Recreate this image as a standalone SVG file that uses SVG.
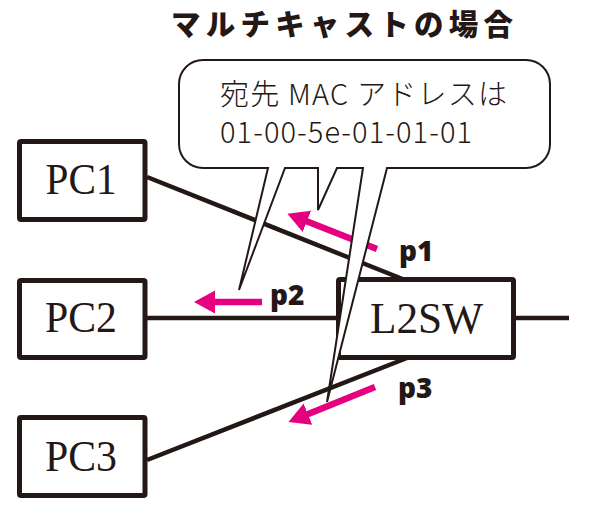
<svg xmlns="http://www.w3.org/2000/svg" width="590" height="518" viewBox="0 0 590 518">
<style>
.box{fill:#fff;stroke:#231815;stroke-width:5}
.lbl{font-family:"Liberation Serif","Times New Roman",serif;font-size:45px;fill:#231815}
.link{stroke:#231815;stroke-width:4.5;fill:none}
.flow{stroke:#e4007f;stroke-width:6.5;fill:none}
.port{font-family:"Open Sans","Noto Sans","DejaVu Sans",sans-serif;font-weight:800;font-size:28px;fill:#231815}
.jp{font-family:"Noto Sans CJK JP","Noto Sans",sans-serif;fill:#231815}
</style>
<defs>
<marker id="ah" markerUnits="userSpaceOnUse" markerWidth="22" markerHeight="24" viewBox="0 0 22 24" refX="1" refY="11.5" orient="auto">
<path d="M0,0 L21,11.5 L0,23 z" fill="#e4007f"/>
</marker>
</defs>
<rect width="590" height="518" fill="#fff"/>
<text x="171" y="35" class="jp" font-size="29.5" font-weight="900" textLength="342" lengthAdjust="spacing">マルチキャストの場合</text>
<g id="connectors">
<line class="link" x1="147" y1="177" x2="405" y2="280"/>
<line class="link" x1="147" y1="318" x2="338" y2="318"/>
<line class="link" x1="147" y1="460" x2="407" y2="358"/>
<line class="link" x1="514" y1="318" x2="569" y2="318"/>
</g>
<g id="PC1"><rect class="box" x="19.5" y="141.5" width="125.5" height="78" rx="1.5"/><text class="lbl" x="81" y="194" text-anchor="middle" textLength="71" lengthAdjust="spacingAndGlyphs">PC1</text></g>
<g id="PC2"><rect class="box" x="19.5" y="280.5" width="125.5" height="77" rx="1.5"/><text class="lbl" x="81" y="332" text-anchor="middle" textLength="72" lengthAdjust="spacingAndGlyphs">PC2</text></g>
<g id="PC3"><rect class="box" x="19.5" y="417.5" width="125.5" height="78" rx="1.5"/><text class="lbl" x="81" y="471" text-anchor="middle" textLength="72" lengthAdjust="spacingAndGlyphs">PC3</text></g>
<g id="L2SW"><rect class="box" x="338.5" y="279.5" width="175" height="78" rx="1.5"/><text class="lbl" x="426.5" y="333" text-anchor="middle" textLength="113" lengthAdjust="spacingAndGlyphs">L2SW</text></g>
<g id="flows">
<line class="flow" x1="377" y1="249" x2="306" y2="221" marker-end="url(#ah)"/>
<line class="flow" x1="262" y1="302" x2="214" y2="302" marker-end="url(#ah)"/>
<line class="flow" x1="375" y1="387" x2="307" y2="414.5" marker-end="url(#ah)"/>
<text class="port" x="399" y="261">p1</text>
<text class="port" x="270" y="305">p2</text>
<text class="port" x="398" y="398">p3</text>
</g>
<g id="callout">
<path d="M203,60 H526 A24,24 0 0 1 550,84 V144 A24,24 0 0 1 526,168 H387 L327,402 L363,168 H337 L318,210 V168 H285 L239,290 L268,168 H203 A24,24 0 0 1 179,144 V84 A24,24 0 0 1 203,60 Z" fill="#fff" stroke="#231815" stroke-width="2" stroke-linejoin="miter"/>
<text class="jp" x="220" y="105" font-size="29" font-weight="300" textLength="287" lengthAdjust="spacing">宛先 MAC アドレスは</text>
<text class="jp" x="220" y="143" font-size="29" font-weight="300" textLength="252" lengthAdjust="spacing">01-00-5e-01-01-01</text>
</g>
</svg>
